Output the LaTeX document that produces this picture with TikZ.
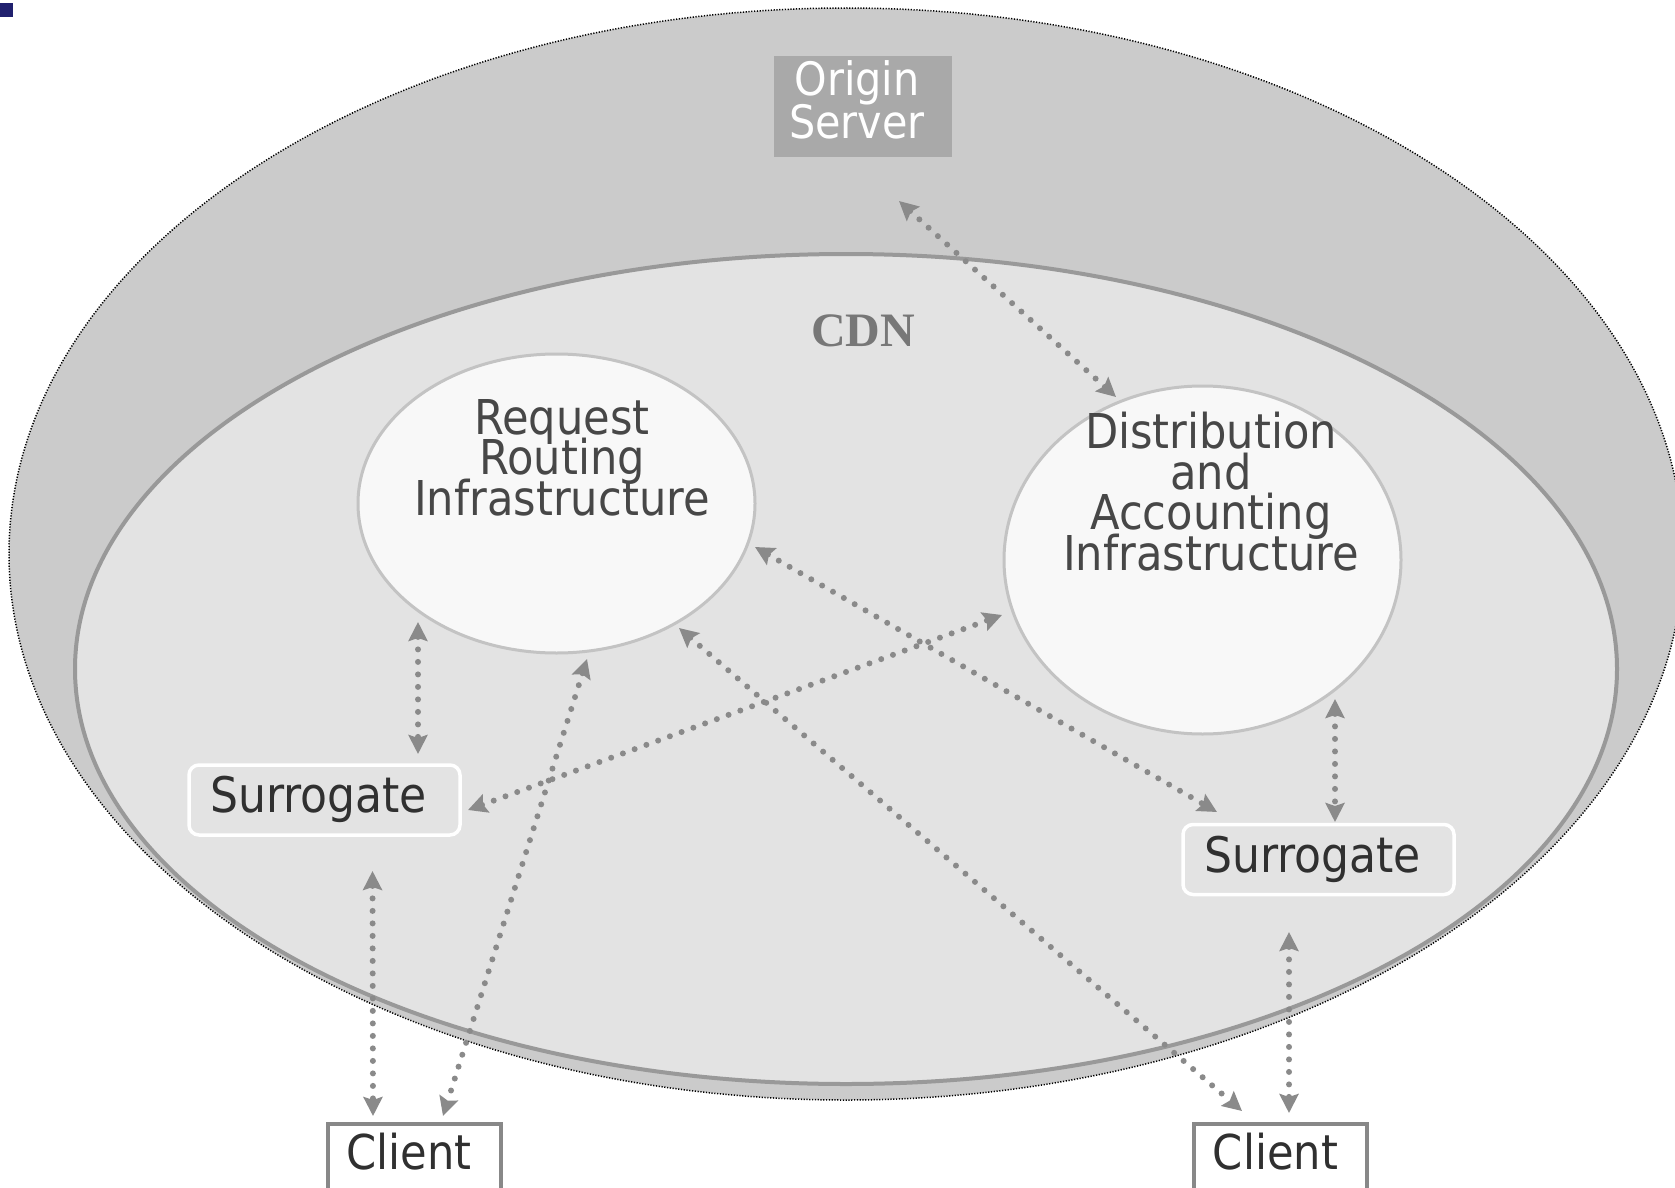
\documentclass[tikz,border=0pt]{standalone}
\usepackage{fontspec}
\setmainfont{Liberation Serif}
\newfontfamily\tahfont{DejaVu Sans}[FakeStretch=0.9]
\usetikzlibrary{arrows.meta,calc,shapes.geometric}

% let stacked lines keep their baselineskip even when glyphs would touch
\newcommand\tightlines{\lineskiplimit=-60pt\relax}

\definecolor{outerfill}{HTML}{CBCBCB}
\definecolor{innerfill}{HTML}{E3E3E3}
\definecolor{innerline}{HTML}{999999}
\definecolor{bubblefill}{HTML}{F8F8F8}
\definecolor{bubbleline}{HTML}{C3C3C3}
\definecolor{origfill}{HTML}{A9A9A9}
\definecolor{linkgray}{HTML}{8A8A8A}
\definecolor{labelgray}{HTML}{474747}
\definecolor{darktext}{HTML}{303030}
\definecolor{cdngray}{HTML}{777777}
\definecolor{boxline}{HTML}{888888}
\definecolor{markblue}{HTML}{20206E}

\tikzset{
  bubble/.style={ellipse, draw=bubbleline, line width=3pt, fill=bubblefill,
    minimum width=397pt, inner sep=0pt},
  % anchor=base of a multi-line node sits on its last line
  bubbletext/.style={anchor=base, align=center, text=labelgray,
    font={\tahfont\fontsize{48}{40.5}\selectfont\tightlines}},
  surrbox/.style={draw=white, line width=3.5pt, fill=innerfill, rounded corners=10pt,
    minimum width=271pt, minimum height=70pt, inner sep=0pt, text=darktext,
    text height=37pt, text depth=12pt, font={\tahfont\fontsize{49}{49}\selectfont}},
  clientbox/.style={draw=boxline, line width=4pt, fill=white,
    minimum width=173pt, minimum height=72pt, inner sep=0pt, text=darktext,
    text height=36pt, text depth=18pt, font={\tahfont\fontsize{48}{48}\selectfont}},
  link/.style={draw=linkgray, line width=6pt, line cap=round,
    dash pattern=on 0pt off 12.5pt,
    {Stealth[length=19pt,width=19pt,inset=3pt]}-{Stealth[length=19pt,width=19pt,inset=3pt]}},
}

\begin{document}
\begin{tikzpicture}[x=1pt,y=-1pt]
  \useasboundingbox (0,0) rectangle (1675,1188);
  \fill[white] (0,0) rectangle (1675,1188);

  % corner marker
  \fill[markblue] (0,3) rectangle (13,17);

  % outer domain and CDN domain
  \path[fill=outerfill, draw=black, line width=1.5pt, dash pattern=on 1.2pt off 1.6pt]
    (846,554) ellipse [x radius=837, y radius=546];
  \path[fill=innerfill, draw=innerline, line width=4pt]
    (846,669) ellipse [x radius=771, y radius=415];

  % origin server
  \node[fill=origfill, minimum width=178pt, minimum height=101pt, inner sep=0pt] (ori) at (863,106.5) {};
  \node[anchor=base, align=center, text=white,
    font={\tahfont\fontsize{46}{43}\selectfont\tightlines}] (orilabel) at (857,139) {Origin\\Server};

  % CDN title
  \node[anchor=base, text=cdngray, font={\bfseries\fontsize{48}{48}\selectfont}] (cdn) at (863,346) {CDN};

  % infrastructure bubbles
  \node[bubble, minimum height=299pt] (req) at (556.5,503.5) {};
  \node[bubbletext] (reqlabel) at (562,515) {Request\\Routing\\Infrastructure};
  \node[bubble, minimum height=348pt] (dist) at (1202.5,560) {};
  \node[bubbletext] (distlabel) at (1211,570) {Distribution\\and\\Accounting\\Infrastructure};

  % surrogates (labels sit a little left of centre)
  \node[surrbox] (sl) at (324.5,800) {Surrogate\kern12pt};
  \node[surrbox] (sr) at (1318.5,859.5) {Surrogate\kern12pt};

  % clients
  \node[clientbox] (cl) at (414,1160) {Client\kern10pt};
  \node[clientbox] (cr) at (1280.5,1160) {Client\kern10pt};

  % connections
  \draw[link] ($(ori)+(36,94.5)$) -- ($(dist)+(-86.5,-163)$);
  \draw[link] ($(req)+(-138.5,118.5)$) -- ($(sl)+(93.5,-46)$);
  \draw[link] ($(req)+(30.5,155.5)$) -- ($(cl)+(29,-44)$);
  \draw[link] ($(sl)+(48,71)$) -- ($(cl)+(-41,-44)$);
  \draw[link] ($(sl)+(143.5,10)$) -- ($(dist)+(-200.5,55)$);
  \draw[link] ($(req)+(198.5,43.5)$) -- ($(sr)+(-101.5,-47.5)$);
  \draw[link] ($(req)+(122.5,124.5)$) -- ($(cr)+(-38.5,-49)$);
  \draw[link] ($(dist)+(132.5,139)$) -- ($(sr)+(16.5,-37.5)$);
  \draw[link] ($(sr)+(-29.5,72.5)$) -- ($(cr)+(8.5,-47)$);
\end{tikzpicture}
\end{document}
